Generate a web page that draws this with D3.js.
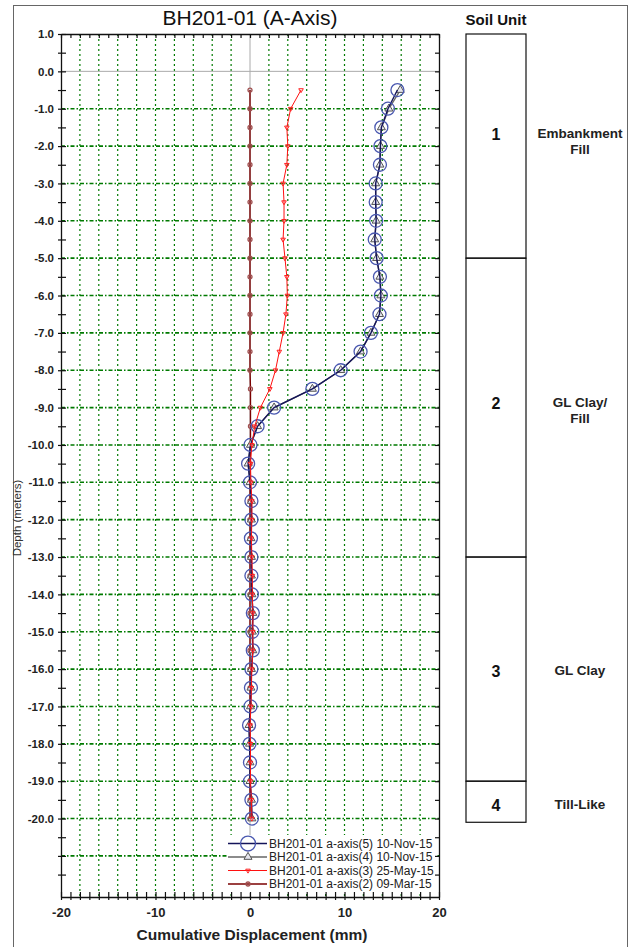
<!DOCTYPE html>
<html>
<head>
<meta charset="utf-8">
<script src="https://cdn.jsdelivr.net/npm/d3@7"></script>
<style>
  body { margin: 0; background: #fff; }
  svg text { font-family: "Liberation Sans", Arial, sans-serif; }
</style>
</head>
<body>
<svg id="chart" width="632" height="947"></svg>
<script>
// depth of each reading (m)
const depths = [-0.5, -1.0, -1.5, -2.0, -2.5, -3.0, -3.5, -4.0, -4.5, -5.0,
  -5.5, -6.0, -6.5, -7.0, -7.5, -8.0, -8.5, -9.0, -9.5, -10.0,
  -10.5, -11.0, -11.5, -12.0, -12.5, -13.0, -13.5, -14.0, -14.5, -15.0,
  -15.5, -16.0, -16.5, -17.0, -17.5, -18.0, -18.5, -19.0, -19.5, -20.0];

// cumulative displacement (mm) per reading
const axis5Nov15 = [15.6, 14.6, 13.9, 13.8, 13.75, 13.3, 13.3, 13.35, 13.2, 13.4,
  13.75, 13.85, 13.7, 12.8, 11.7, 9.6, 6.6, 2.55, 0.8, 0.05,
  -0.2, 0.0, 0.15, 0.15, 0.1, 0.15, 0.15, 0.2, 0.3, 0.25,
  0.3, 0.15, 0.1, 0.05, -0.1, -0.05, 0.0, 0.0, 0.15, 0.2];
const axis4Nov15 = [15.9, 14.7, 13.9, 13.8, 13.75, 13.3, 13.3, 13.35, 13.2, 13.4,
  13.75, 13.85, 13.7, 12.8, 11.7, 9.6, 6.6, 2.55, 0.8, 0.05,
  -0.2, 0.0, 0.15, 0.15, 0.1, 0.15, 0.15, 0.2, 0.3, 0.25,
  0.3, 0.15, 0.1, 0.05, -0.1, -0.05, 0.0, 0.0, 0.15, 0.2];
const axis3May15 = [5.4, 4.3, 3.9, 4.0, 3.9, 3.5, 3.6, 3.6, 3.5, 3.7,
  3.9, 3.95, 3.8, 3.5, 3.1, 2.7, 2.1, 1.1, 0.5, 0.2,
  0.05, 0.1, 0.2, 0.2, 0.15, 0.2, 0.25, 0.25, 0.3, 0.3,
  0.3, 0.2, 0.15, 0.1, 0.0, 0.05, 0.05, 0.05, 0.15, 0.2];
const axis2Mar15 = [0.0, 0.0, 0.0, 0.0, 0.0, 0.0, 0.0, 0.0, 0.0, 0.0,
  0.0, 0.0, 0.0, 0.0, 0.0, 0.0, 0.05, 0.05, 0.05, 0.05,
  0.0, 0.0, 0.0, 0.0, 0.0, 0.0, 0.0, 0.0, 0.0, 0.0,
  0.0, 0.0, 0.0, 0.0, 0.0, 0.0, 0.0, 0.0, 0.0, 0.0];

const seriesNames = [
  'BH201-01 a-axis(5) 10-Nov-15',
  'BH201-01 a-axis(4) 10-Nov-15',
  'BH201-01 a-axis(3) 25-May-15',
  'BH201-01 a-axis(2) 09-Mar-15'
];

const depthDomain = [1.0, -22.1];
const displacementDomain = [-20, 20];
const displacementLabels = [-20, -10, 0, 10, 20];

// soil units
const unitNumbers = ['1', '2', '3', '4'];
const unitTops = [1.0, -5.0, -13.0, -19.0];
const unitBottoms = [-5.0, -13.0, -19.0, -20.1];
const unitLabelDepths = [-1.84, -9.04, -16.2, -19.8];
const unitDescriptions = [['Embankment', 'Fill'], ['GL Clay/', 'Fill'], ['GL Clay'], ['Till-Like']];

const viz = {
  plot: { left: 61, right: 439, top: 34, bottom: 897 },
  green: '#007a00',

  init() {
    this.svg = d3.select('#chart');
    this.x = d3.scaleLinear().domain(displacementDomain).range([this.plot.left, this.plot.right]);
    this.y = d3.scaleLinear().domain(depthDomain).range([this.plot.top, this.plot.bottom]);

    this.drawFrame();
    this.drawGrid();
    this.drawSeries();
    this.drawLegend();
    this.drawAxes();
    this.drawTitles();
    this.drawSoilUnits();
  },

  drawFrame() {
    this.svg.append('rect')
      .attr('x', 13.5).attr('y', 5.5)
      .attr('width', 614).attr('height', 950)
      .attr('fill', 'none')
      .attr('stroke', '#666');
  },

  drawGrid() {
    const g = this.svg.append('g');
    const { left, right, top, bottom } = this.plot;

    g.selectAll('line.vgrid')
      .data(d3.range(-18, 19, 2).filter((d) => d !== 0))
      .join('line')
      .attr('class', 'vgrid')
      .attr('x1', (d) => this.x(d)).attr('x2', (d) => this.x(d))
      .attr('y1', top).attr('y2', bottom)
      .attr('stroke', this.green)
      .attr('stroke-width', 1.2)
      .attr('stroke-dasharray', '2,3');

    g.selectAll('line.hgrid')
      .data(d3.range(-1, -22, -1))
      .join('line')
      .attr('class', 'hgrid')
      .attr('x1', left).attr('x2', right)
      .attr('y1', (d) => this.y(d)).attr('y2', (d) => this.y(d))
      .attr('stroke', this.green)
      .attr('stroke-width', 1.6)
      .attr('stroke-dasharray', '4,2,1.5,2');

    // zero lines
    g.append('line')
      .attr('x1', this.x(0)).attr('x2', this.x(0))
      .attr('y1', top).attr('y2', bottom)
      .attr('stroke', '#aaa');
    g.append('line')
      .attr('x1', left).attr('x2', right)
      .attr('y1', this.y(0)).attr('y2', this.y(0))
      .attr('stroke', '#aaa');
  },

  styles: [
    { line: '#14145a', width: 1.4, marker: 'circle', stroke: '#4a58b0', fill: 'none', r: 6.5 },
    { line: '#666', width: 1.4, marker: 'triangle', stroke: '#555', fill: '#e6e6ee', size: 28 },
    { line: '#ff1010', width: 1, marker: 'down', stroke: '#ff2020', fill: 'none', size: 9 },
    { line: '#7a0000', width: 1.4, marker: 'dot', stroke: '#a05050', fill: 'none', r: 2 }
  ],

  marker(g, style, cx, cy, scale = 1) {
    if (style.marker === 'circle' || style.marker === 'dot') {
      g.append('circle')
        .attr('cx', cx).attr('cy', cy)
        .attr('r', style.r * scale)
        .attr('fill', style.fill)
        .attr('stroke', style.stroke)
        .attr('stroke-width', 1.3);
    } else {
      const rot = style.marker === 'down' ? 180 : 0;
      g.append('path')
        .attr('d', d3.symbol(d3.symbolTriangle, style.size * scale)())
        .attr('transform', `translate(${cx},${cy}) rotate(${rot})`)
        .attr('fill', style.fill)
        .attr('stroke', style.stroke)
        .attr('stroke-width', 1);
    }
  },

  drawSeries() {
    const values = [axis5Nov15, axis4Nov15, axis3May15, axis2Mar15];
    const line = d3.line()
      .x((d) => this.x(d.value))
      .y((d) => this.y(d.depth));
    // draw order: (2), (4), (5), (3)
    [3, 1, 0, 2].forEach((i) => {
      const style = this.styles[i];
      const points = depths.map((depth, k) => ({ depth, value: values[i][k] }));
      const g = this.svg.append('g');
      g.append('path')
        .datum(points)
        .attr('d', line)
        .attr('fill', 'none')
        .attr('stroke', style.line)
        .attr('stroke-width', style.width);
      points.forEach((p) => this.marker(g, style, this.x(p.value), this.y(p.depth)));
    });
  },

  drawLegend() {
    const g = this.svg.append('g');
    g.append('rect')
      .attr('x', 228).attr('y', 835)
      .attr('width', 208).attr('height', 58)
      .attr('fill', '#fff');
    seriesNames.forEach((name, i) => {
      const style = this.styles[i];
      const cy = 843.5 + i * 13.5;
      g.append('line')
        .attr('x1', 228).attr('x2', 267)
        .attr('y1', cy).attr('y2', cy)
        .attr('stroke', style.line)
        .attr('stroke-width', style.width);
      this.marker(g, style, 248, cy, i === 0 ? 1.15 : 1);
      g.append('text')
        .attr('x', 269).attr('y', cy + 4)
        .attr('font-size', 12)
        .attr('fill', '#222')
        .text(name);
    });
  },

  drawAxes() {
    const { left, right, top, bottom } = this.plot;
    const depthTicks = d3.range(1, -22, -0.5);
    const mmTicks = d3.range(-20, 21, 1);

    const leftAxis = this.svg.append('g')
      .attr('transform', `translate(${left},0)`)
      .call(d3.axisLeft(this.y)
        .tickValues(depthTicks)
        .tickSizeInner(3).tickSizeOuter(0)
        .tickPadding(4)
        .tickFormat((d) => (Number.isInteger(d) && d >= -20 ? d.toFixed(1) : '')));
    leftAxis.selectAll('.tick line').attr('x1', 5);

    const rightAxis = this.svg.append('g')
      .attr('transform', `translate(${right},0)`)
      .call(d3.axisRight(this.y)
        .tickValues(depthTicks)
        .tickSizeInner(-4).tickSizeOuter(0)
        .tickFormat(''));

    const topAxis = this.svg.append('g')
      .attr('transform', `translate(0,${top})`)
      .call(d3.axisTop(this.x)
        .tickValues(mmTicks)
        .tickSizeInner(-4).tickSizeOuter(0)
        .tickFormat(''));

    const bottomAxis = this.svg.append('g')
      .attr('transform', `translate(0,${bottom})`)
      .call(d3.axisBottom(this.x)
        .tickValues(mmTicks)
        .tickSizeInner(3).tickSizeOuter(0)
        .tickPadding(8)
        .tickFormat((d) => (displacementLabels.includes(d) ? String(d) : '')));
    bottomAxis.selectAll('.tick line').attr('y1', -5);

    [leftAxis, rightAxis, topAxis, bottomAxis].forEach((a) => {
      a.select('.domain').attr('stroke', '#111').attr('stroke-width', 1.3);
      a.selectAll('.tick line').attr('stroke', '#111').attr('stroke-width', 1.2);
    });
    leftAxis.selectAll('text')
      .attr('font-family', '"Liberation Sans", Arial, sans-serif')
      .attr('font-size', 11.5).attr('font-weight', 'bold').attr('fill', '#222');
    bottomAxis.selectAll('text')
      .attr('font-family', '"Liberation Sans", Arial, sans-serif')
      .attr('font-size', 13).attr('font-weight', 'bold').attr('fill', '#222');
  },

  drawTitles() {
    this.svg.append('text')
      .attr('x', 250).attr('y', 25)
      .attr('text-anchor', 'middle')
      .attr('font-size', 21)
      .attr('fill', '#111')
      .text('BH201-01 (A-Axis)');

    this.svg.append('text')
      .attr('x', 252).attr('y', 940)
      .attr('text-anchor', 'middle')
      .attr('font-size', 15.5)
      .attr('font-weight', 'bold')
      .attr('fill', '#222')
      .text('Cumulative Displacement (mm)');

    this.svg.append('text')
      .attr('transform', 'translate(21,518) rotate(-90)')
      .attr('text-anchor', 'middle')
      .attr('font-size', 11.5)
      .attr('fill', '#333')
      .text('Depth (meters)');
  },

  drawSoilUnits() {
    const g = this.svg.append('g');
    const boxLeft = 466;
    const boxRight = 526;
    const boxMid = (boxLeft + boxRight) / 2;
    const descMid = 580;

    g.append('text')
      .attr('x', boxMid).attr('y', 25)
      .attr('text-anchor', 'middle')
      .attr('font-size', 15).attr('font-weight', 'bold')
      .attr('fill', '#111')
      .text('Soil Unit');

    unitNumbers.forEach((num, i) => {
      g.append('rect')
        .attr('x', boxLeft).attr('y', this.y(unitTops[i]))
        .attr('width', boxRight - boxLeft)
        .attr('height', this.y(unitBottoms[i]) - this.y(unitTops[i]))
        .attr('fill', 'none')
        .attr('stroke', '#111')
        .attr('stroke-width', 1.2);
      const ly = this.y(unitLabelDepths[i]);
      g.append('text')
        .attr('x', boxMid).attr('y', ly)
        .attr('text-anchor', 'middle')
        .attr('font-size', 16).attr('font-weight', 'bold')
        .attr('fill', '#111')
        .text(num);
      unitDescriptions[i].forEach((line, k) => {
        g.append('text')
          .attr('x', descMid).attr('y', ly - 2 + k * 16)
          .attr('text-anchor', 'middle')
          .attr('font-size', 13.5).attr('font-weight', 'bold')
          .attr('fill', '#222')
          .text(line);
      });
    });
  }
};

viz.init();
</script>
</body>
</html>
